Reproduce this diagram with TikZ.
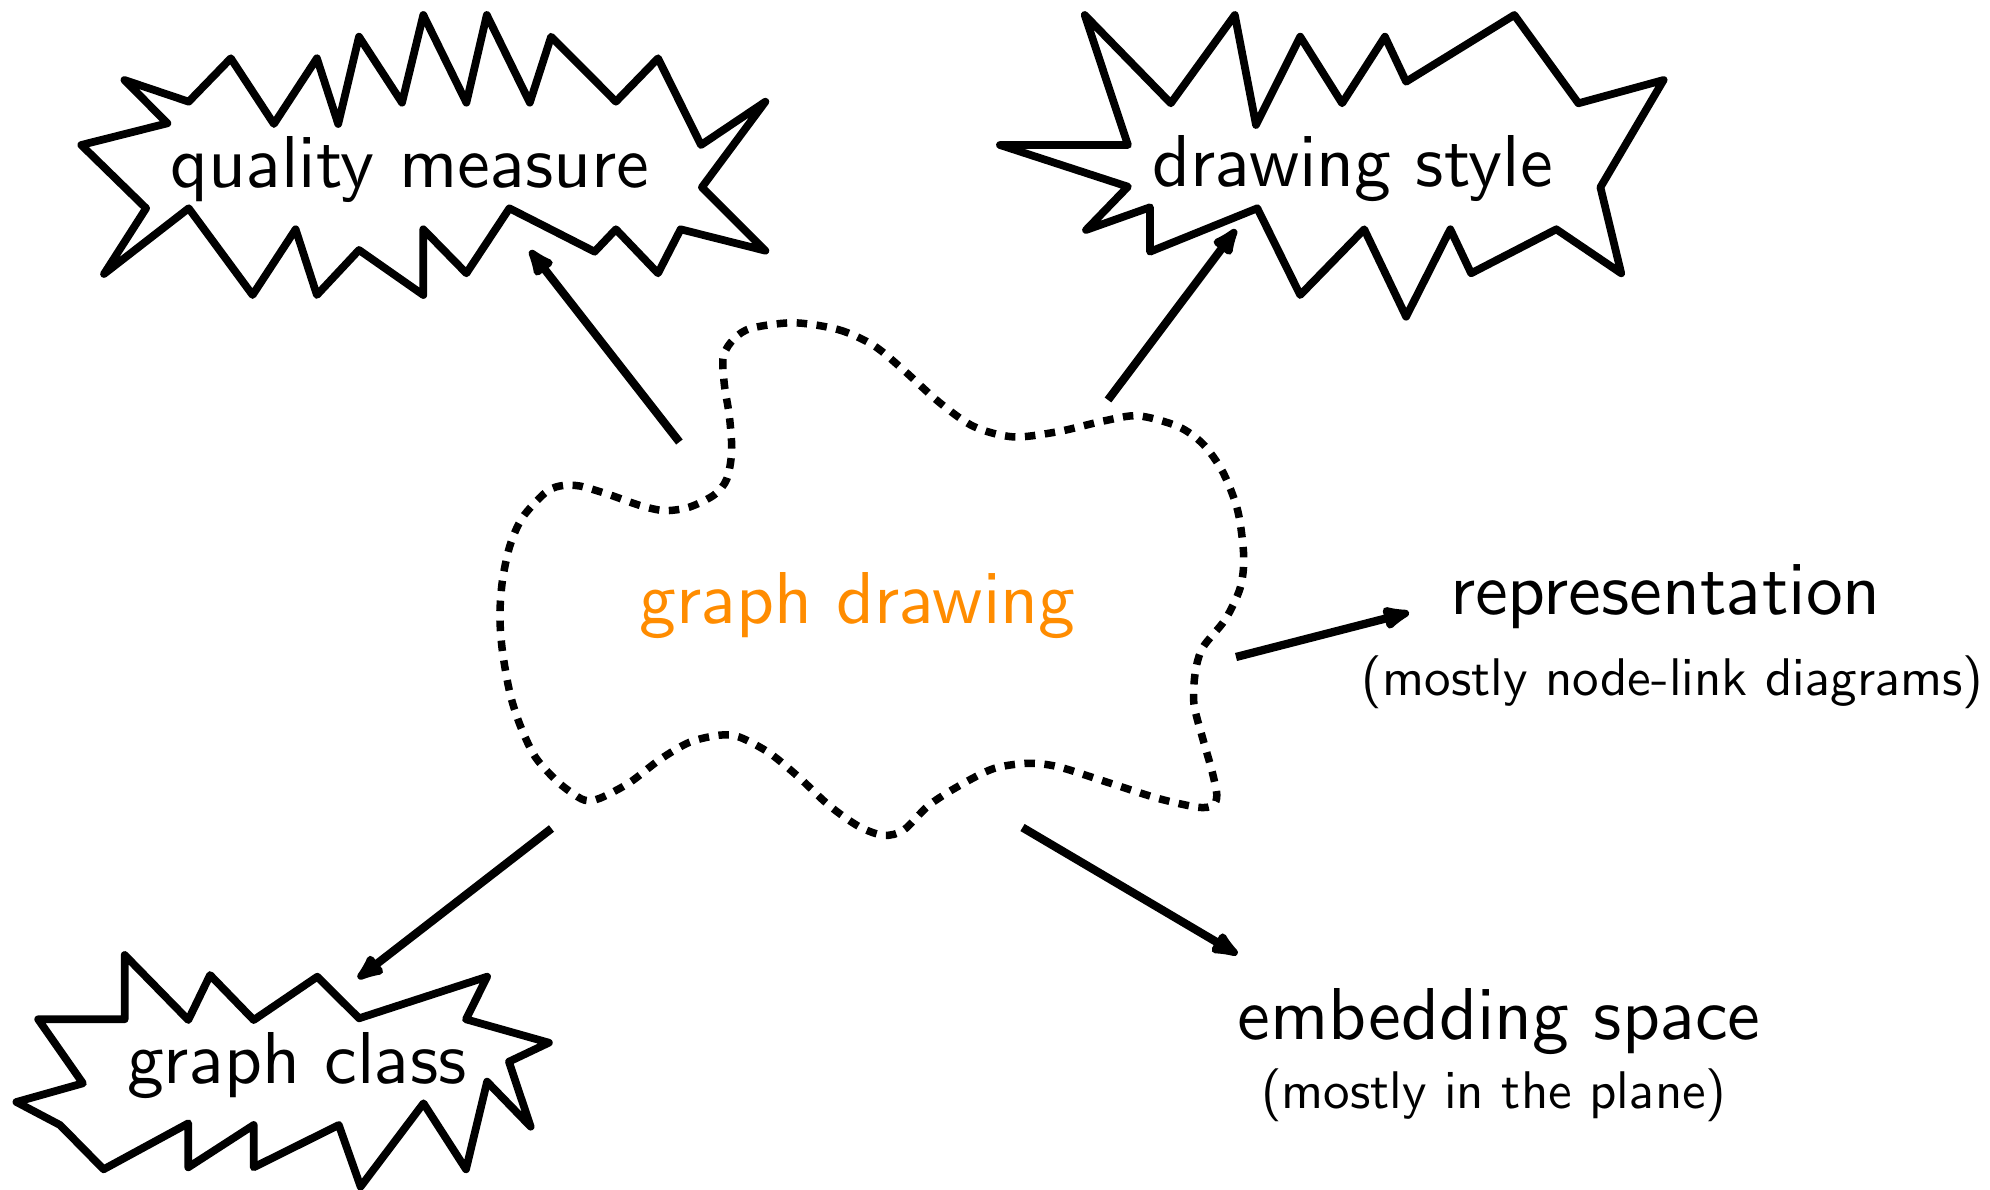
\documentclass[tikz,border=0pt]{standalone}
\usetikzlibrary{arrows.meta}
\definecolor{gdorange}{RGB}{255,140,0}
\font\gdbigfont=cmss10 at 29.4pt
\font\gdsmallfont=cmss10 at 21.2pt
\tikzset{
  burst/.style={draw=black, line width=3.1pt, line join=round},
  blobline/.style={draw=black, line width=3pt, dash pattern=on 4.2pt off 3.8pt},
  arr/.style={line width=3.3pt, -{Latex[length=14.5pt,width=11pt,round]}},
  bigtext/.style={font=\gdbigfont, inner sep=0pt, anchor=base},
  smalltext/.style={font=\gdsmallfont, inner sep=0pt, anchor=base},
}
\begin{document}
\begin{tikzpicture}[x=0.4pt,y=-0.4pt]
\useasboundingbox (0,0) rectangle (1990,1190);

% quality measure burst
\draw[burst] (81.3,145) -- (167.4,123.3) -- (124.4,80) -- (188.7,101.7) -- (230.8,58.3)
 -- (273.9,124) -- (316.9,58.3) -- (338.2,124) -- (359,36.7) -- (402,102.7)
 -- (423.3,15) -- (466.4,102.7) -- (486.8,15) -- (529.8,102.7) -- (551.1,36.7)
 -- (615.9,101.7) -- (658,58.3) -- (701,145) -- (765.4,101.7) -- (701.9,187.3)
 -- (765.4,250.7) -- (680.6,229.3) -- (658,273.3) -- (615.9,229.3) -- (594.6,251.7)
 -- (509.4,208.3) -- (466.4,273.3) -- (423.3,229.3) -- (423.3,295) -- (359,250)
 -- (316.9,295) -- (295.6,229.3) -- (252.6,295) -- (188.7,208.3) -- (104,274)
 -- (146.1,208.3) -- cycle;
\node[bigtext] (qm) at (410,188) {quality measure};

% drawing style burst
\draw[burst] (999.9,145) -- (1127.9,145) -- (1084.7,15) -- (1170.8,103.3) -- (1234.8,15)
 -- (1256,125) -- (1300.2,36.7) -- (1342.1,103.3) -- (1384.9,36.7) -- (1406.1,81.7)
 -- (1514.3,15) -- (1578.4,103.3) -- (1663.6,80) -- (1600.4,187.3) -- (1621.2,273.3)
 -- (1556.3,229.3) -- (1471.1,273.3) -- (1450.3,229.3) -- (1406.1,316.7) -- (1364.2,229.3)
 -- (1300.2,295) -- (1257.3,208.3) -- (1150,251.7) -- (1150,207.3) -- (1086,230)
 -- (1127.9,186.7) -- cycle;
\node[bigtext] (ds) at (1353,187) {drawing style};

% graph class burst
\draw[burst] (16.4,1102) -- (82.9,1083.3) -- (38.2,1019.3) -- (124.7,1019.3) -- (124.7,955)
 -- (188.3,1020) -- (210.1,975) -- (253.7,1020) -- (317.3,976.7) -- (359.1,1018.3)
 -- (487.1,976.7) -- (466,1019.3) -- (548.9,1042.7) -- (508.9,1061.7) -- (530.7,1126.7)
 -- (487.1,1081.7) -- (466,1169.3) -- (423.5,1103.3) -- (360.6,1186.7) -- (338.8,1125)
 -- (253.7,1167.3) -- (253.7,1125) -- (188.3,1167.3) -- (188.3,1123.3) -- (103.6,1169.3)
 -- (60,1125) -- cycle;
\node[bigtext] (gc) at (297,1083) {graph class};

% central blob
\draw[blobline] plot[smooth cycle] coordinates {
 (794.1,322.8) (838.9,329.8) (873.8,345.6) (903.7,370.2) (938.6,401.8) (973.5,426.4)
 (1013.4,436.9) (1058.3,431.6) (1103.1,421.1) (1138,415.8) (1177.9,426.4) (1202.8,443.9)
 (1222.8,472) (1237.7,510.6) (1243.7,556.2) (1240.2,587.8) (1225.3,619.4) (1202.8,647.5)
 (1195.3,672.1) (1193.9,703.7) (1202.8,738.8) (1211.8,770.3) (1216.8,794.9) (1212.8,805.4)
 (1197.8,807.2) (1158,798.4) (1103.1,780.9) (1058.3,766.8) (1028.4,763.3) (993.5,768.6)
 (958.6,786.1) (928.7,805.4) (903.7,830) (883.8,835.3) (858.9,826.5) (829,805.4)
 (799,777.4) (769.1,752.8) (739.2,737) (719.3,735.2) (689.4,742.3) (659.5,759.8)
 (629.6,782.6) (599.6,798.4) (584.7,800.2) (569.7,791.4) (554.8,779.1) (534.8,756.3)
 (519.9,724.7) (509.9,693.1) (502.4,651) (499.9,615.9) (502.4,580.8) (509.9,545.7)
 (522.4,517.6) (544.8,493.1) (559.8,486) (579.7,486) (609.6,494.8) (639.5,505.3)
 (664.4,510.6) (689.4,507.1) (714.3,494.8) (726.8,479) (731.7,450.9) (729.3,415.8)
 (724.3,384.2) (723.3,356.2) (734.2,338.6) (751.7,328.1)};
\node[bigtext, text=gdorange] (gd) at (857.5,623) {graph drawing};

% right and bottom labels
\node[bigtext] (rep) at (1665.7,614) {representation};
\node[smalltext] (repsub) at (1673,695) {(mostly node-link diagrams)};
\node[bigtext] (emb) at (1499.5,1039) {embedding space};
\node[smalltext] (embsub) at (1494,1108) {(mostly in the plane)};

% connector end points
\coordinate (qmFrom) at (679.4,442);
\coordinate (qmTo) at (530,250.5);
\coordinate (dsFrom) at (1108,400);
\coordinate (dsTo) at (1236,229.5);
\coordinate (repFrom) at (1236,657);
\coordinate (repTo) at (1409,612.5);
\coordinate (gcFrom) at (551.5,828.5);
\coordinate (gcTo) at (358,978.4);
\coordinate (embFrom) at (1022.5,827.5);
\coordinate (embTo) at (1237.4,954.3);

\draw[arr] (qmFrom) -- (qmTo);
\draw[arr] (dsFrom) -- (dsTo);
\draw[arr] (repFrom) -- (repTo);
\draw[arr] (gcFrom) -- (gcTo);
\draw[arr] (embFrom) -- (embTo);
\end{tikzpicture}
\end{document}
